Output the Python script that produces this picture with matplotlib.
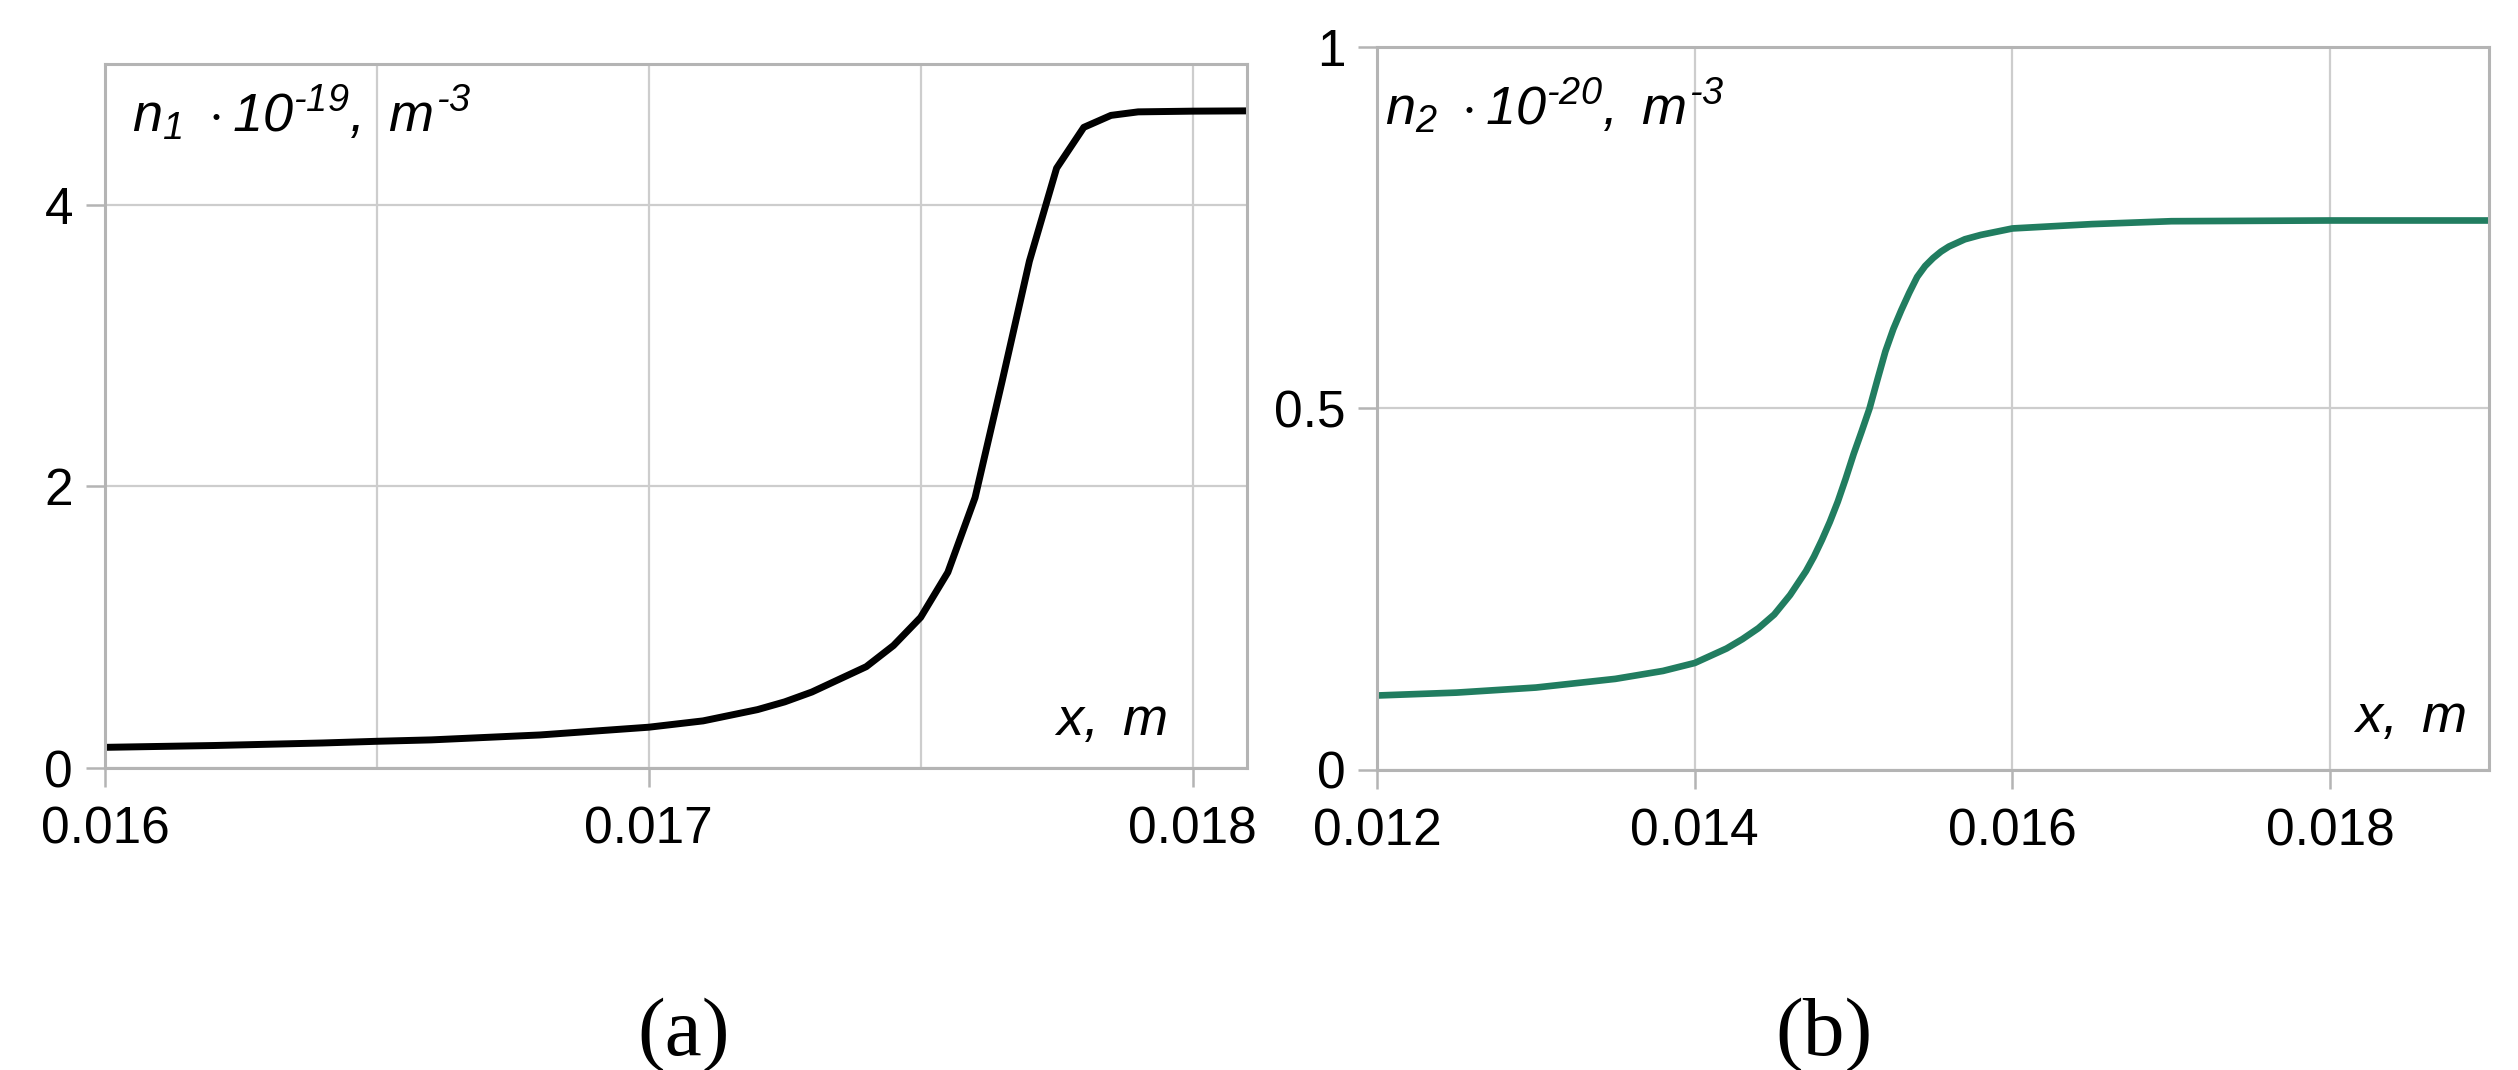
import numpy as np
import matplotlib.pyplot as plt
from matplotlib.ticker import MultipleLocator

plt.rcParams['font.family'] = ['Liberation Sans', 'DejaVu Sans']
plt.rcParams['mathtext.fontset'] = 'custom'
plt.rcParams['mathtext.it'] = 'Liberation Sans:italic'
plt.rcParams['mathtext.rm'] = 'Liberation Sans:italic'
plt.rcParams['mathtext.sf'] = 'Liberation Sans:italic'

# (a) n1 profile
x1 = [0.0160, 0.0162, 0.0164, 0.0165, 0.0166, 0.0168, 0.0170, 0.0171, 0.0172,
      0.01725, 0.0173, 0.01735, 0.0174, 0.01745, 0.0175, 0.01755, 0.0176,
      0.01765, 0.0177, 0.01775, 0.0178, 0.01785, 0.0179, 0.0180, 0.0181]
n1 = [0.147, 0.160, 0.178, 0.190, 0.200, 0.235, 0.290, 0.335, 0.415,
      0.470, 0.540, 0.630, 0.720, 0.870, 1.070, 1.390, 1.920,
      2.750, 3.600, 4.260, 4.550, 4.635, 4.660, 4.665, 4.667]

# (b) n2 profile
x2 = [0.0120, 0.0125, 0.0130, 0.0135, 0.0138, 0.0140, 0.0142, 0.0143, 0.0144,
      0.0145, 0.0146, 0.0147, 0.01475, 0.0148, 0.01485, 0.0149, 0.01495,
      0.0150, 0.01505, 0.0151, 0.01515, 0.0152, 0.01525, 0.0153, 0.01535,
      0.0154, 0.01545, 0.0155, 0.01555, 0.0156, 0.0157, 0.0158, 0.0160,
      0.0165, 0.0170, 0.0180, 0.0190]
n2 = [0.103, 0.107, 0.114, 0.126, 0.137, 0.148, 0.168, 0.181, 0.196,
      0.215, 0.242, 0.275, 0.295, 0.318, 0.343, 0.371, 0.403,
      0.437, 0.468, 0.500, 0.540, 0.579, 0.610, 0.636, 0.660,
      0.682, 0.697, 0.708, 0.717, 0.724, 0.734, 0.740, 0.749,
      0.755, 0.759, 0.760, 0.760]

xticks1 = [0.016, 0.017, 0.018]
xlabels1 = ['0.016', '0.017', '0.018']
yticks1 = [0, 2, 4]
xticks2 = [0.012, 0.014, 0.016, 0.018]
xlabels2 = ['0.012', '0.014', '0.016', '0.018']
yticks2 = [0, 0.5, 1]
ylabels2 = ['0', '0.5', '1']

frame_c = '#b4b4b4'
grid_c = '#cdcdcd'

fig = plt.figure(figsize=(25.18, 10.70), dpi=100)
ax1 = fig.add_axes([0.0417, 0.2822, 0.4535, 0.658])
ax2 = fig.add_axes([0.5469, 0.2804, 0.4416, 0.6757])


def style(ax):
    for s in ax.spines.values():
        s.set_color(frame_c)
        s.set_linewidth(2.2)
    ax.tick_params(which='major', length=14, width=1.8, color=frame_c,
                   labelsize=37, pad=9)
    ax.tick_params(axis='x', which='major', pad=13)
    ax.tick_params(which='minor', length=0)
    ax.grid(True, which='both', color=grid_c, linewidth=1.6)
    ax.set_axisbelow(True)


ax1.plot(x1, n1, color='black', lw=5.0, solid_joinstyle='round')
ax1.set_xlim(0.016, 0.0181)
ax1.set_ylim(0, 5)
ax1.set_xticks(xticks1, xlabels1)
ax1.set_yticks(yticks1)
ax1.xaxis.set_minor_locator(MultipleLocator(0.0005))
style(ax1)
ax1.text(0.024, 0.903, r'$n_1\ \cdot 10^{\text{-}19},\ m^{\text{-}3}$',
         transform=ax1.transAxes, fontsize=39, va='baseline', ha='left')
ax1.text(0.93, 0.047, r'$x,\ m$', transform=ax1.transAxes,
         fontsize=39, va='baseline', ha='right')

ax2.plot(x2, n2, color='#217d60', lw=4.8, solid_joinstyle='round')
ax2.set_xlim(0.012, 0.019)
ax2.set_ylim(0, 1)
ax2.set_xticks(xticks2, xlabels2)
ax2.set_yticks(yticks2, ylabels2)
style(ax2)
ax2.text(0.007, 0.892, r'$n_2\ \cdot 10^{\text{-}20},\ m^{\text{-}3}$',
         transform=ax2.transAxes, fontsize=39, va='baseline', ha='left')
ax2.text(0.979, 0.053, r'$x,\ m$', transform=ax2.transAxes,
         fontsize=39, va='baseline', ha='right')

fig.text(0.2713, 0.032, '(a)', fontsize=60, family='Liberation Serif',
         ha='center', va='center')
fig.text(0.7245, 0.032, '(b)', fontsize=60, family='Liberation Serif',
         ha='center', va='center')

fig.savefig('out.png', dpi=100, facecolor='white')
